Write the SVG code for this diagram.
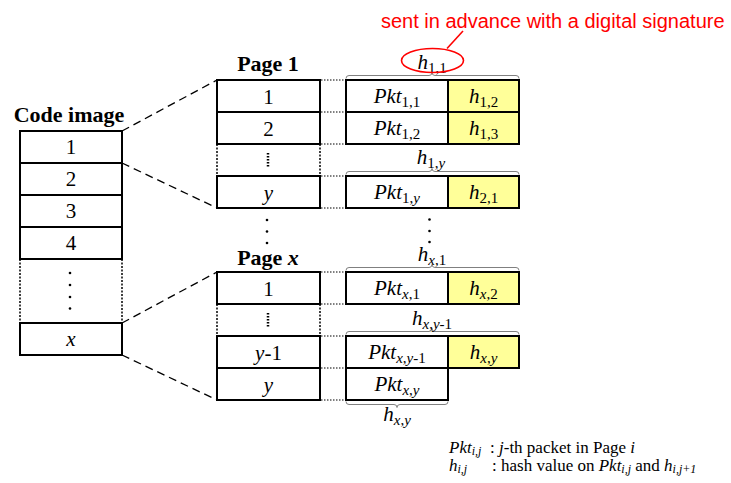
<svg xmlns="http://www.w3.org/2000/svg" width="731" height="483" viewBox="0 0 731 483">
<style>
  .box { fill: #ffffff; stroke: #000; stroke-width: 2; }
  .hash { fill: #ffff99; stroke: #000; stroke-width: 2; }
  .dotside { stroke: #000; stroke-width: 1.5; stroke-dasharray: 2 1.5; fill: none; }
  .t { font-family: "Liberation Serif", "Times New Roman", serif; font-size: 21px; fill: #000; }
  .it { font-style: italic; }
  .b { font-weight: bold; font-size: 22px; }
  .sub { font-size: 15px; font-style: normal; }
  .brace { fill: none; stroke: #808080; stroke-width: 1; }
  .dash { stroke: #000; stroke-width: 1.3; stroke-dasharray: 8 5; fill: none; }
  .lead { stroke: #000; stroke-width: 1; stroke-dasharray: 1.5 1.5; fill: none; }
  .vd { stroke: #000; stroke-width: 2.5; stroke-dasharray: 1.5 1.5; }
  .dot { fill: #000; }
  .red { font-family: "Liberation Sans", Arial, sans-serif; font-size: 20px; fill: #ff0000; }
  .leg { font-family: "Liberation Serif", "Times New Roman", serif; font-size: 17px; fill: #000; }
  .legsub { font-size: 12px; font-style: italic; }
</style>

<!-- Code image -->
<g id="code-image">
  <text class="t b" x="69" y="122" text-anchor="middle">Code image</text>
  <rect class="box" x="20" y="131" width="102" height="32"/>
  <rect class="box" x="20" y="163" width="102" height="32"/>
  <rect class="box" x="20" y="195" width="102" height="32"/>
  <rect class="box" x="20" y="227" width="102" height="32"/>
  <line class="dotside" x1="20" y1="259" x2="20" y2="323"/>
  <line class="dotside" x1="122" y1="259" x2="122" y2="323"/>
  <rect class="box" x="20" y="323" width="102" height="32"/>
  <text class="t" x="71" y="154" text-anchor="middle">1</text>
  <text class="t" x="71" y="186" text-anchor="middle">2</text>
  <text class="t" x="71" y="218" text-anchor="middle">3</text>
  <text class="t" x="71" y="250" text-anchor="middle">4</text>
  <circle class="dot" cx="70" cy="273" r="1.3"/>
  <circle class="dot" cx="70" cy="285" r="1.3"/>
  <circle class="dot" cx="70" cy="297" r="1.3"/>
  <circle class="dot" cx="70" cy="308.5" r="1.3"/>
  <text class="t it" x="71" y="346" text-anchor="middle">x</text>
</g>

<!-- Page 1 -->
<g id="page-1">
  <text class="t b" x="268" y="71" text-anchor="middle">Page 1</text>
  <rect class="box" x="217" y="80" width="103" height="32"/>
  <rect class="box" x="217" y="112" width="103" height="32"/>
  <line class="dotside" x1="217" y1="144" x2="217" y2="176"/>
  <line class="dotside" x1="320" y1="144" x2="320" y2="176"/>
  <rect class="box" x="217" y="176" width="103" height="32"/>
  <text class="t" x="268.5" y="103.5" text-anchor="middle">1</text>
  <text class="t" x="268.5" y="135.5" text-anchor="middle">2</text>
  <line class="vd" x1="268" y1="153" x2="268" y2="167"/>
  <text class="t it" x="268.5" y="199.5" text-anchor="middle">y</text>
</g>

<!-- Page 1 packets -->
<g id="page-1-packets">
  <rect class="box" x="346" y="80" width="102" height="32"/>
  <rect class="hash" x="448" y="80" width="71" height="32"/>
  <rect class="box" x="346" y="112" width="102" height="32"/>
  <rect class="hash" x="448" y="112" width="71" height="32"/>
  <rect class="box" x="346" y="176" width="102" height="32"/>
  <rect class="hash" x="448" y="176" width="71" height="32"/>
  <text class="t it" x="397" y="103" text-anchor="middle">Pkt<tspan class="sub" dy="4">1,1</tspan></text>
  <text class="t it" x="483.5" y="103" text-anchor="middle">h<tspan class="sub" dy="4">1,2</tspan></text>
  <text class="t it" x="397" y="135" text-anchor="middle">Pkt<tspan class="sub" dy="4">1,2</tspan></text>
  <text class="t it" x="483.5" y="135" text-anchor="middle">h<tspan class="sub" dy="4">1,3</tspan></text>
  <text class="t it" x="397" y="199" text-anchor="middle">Pkt<tspan class="sub" dy="4">1,<tspan font-style="italic">y</tspan></tspan></text>
  <text class="t it" x="483.5" y="199" text-anchor="middle">h<tspan class="sub" dy="4">2,1</tspan></text>
  <path class="brace" d="M346,78.5 Q346,75.5 349,75.5 L429,75.5 Q432,75.5 432,72.5 Q432,75.5 435,75.5 L516,75.5 Q519,75.5 519,78.5"/>
  <text class="t it" x="432" y="68.5" text-anchor="middle">h<tspan class="sub" dy="4">1,1</tspan></text>
  <path class="brace" d="M346,174.5 Q346,171.5 349,171.5 L429,171.5 Q432,171.5 432,168.5 Q432,171.5 435,171.5 L516,171.5 Q519,171.5 519,174.5"/>
  <text class="t it" x="431" y="164" text-anchor="middle">h<tspan class="sub" dy="4">1,<tspan font-style="italic">y</tspan></tspan></text>
</g>

<!-- between pages dots -->
<g id="ellipsis">
  <circle class="dot" cx="267" cy="220" r="1.3"/>
  <circle class="dot" cx="267" cy="231.5" r="1.3"/>
  <circle class="dot" cx="267" cy="243" r="1.3"/>
  <circle class="dot" cx="429.5" cy="219.5" r="1.3"/>
  <circle class="dot" cx="429.5" cy="231" r="1.3"/>
  <circle class="dot" cx="429.5" cy="242" r="1.3"/>
</g>

<!-- Page x -->
<g id="page-x">
  <text class="t b" x="268" y="265" text-anchor="middle">Page <tspan font-style="italic">x</tspan></text>
  <rect class="box" x="217" y="272" width="103" height="32"/>
  <line class="dotside" x1="217" y1="304" x2="217" y2="336"/>
  <line class="dotside" x1="320" y1="304" x2="320" y2="336"/>
  <rect class="box" x="217" y="336" width="103" height="32"/>
  <rect class="box" x="217" y="368" width="103" height="32"/>
  <text class="t" x="268.5" y="295.5" text-anchor="middle">1</text>
  <line class="vd" x1="268" y1="313" x2="268" y2="327"/>
  <text class="t" x="268.5" y="359.5" text-anchor="middle"><tspan font-style="italic">y</tspan>-1</text>
  <text class="t it" x="268.5" y="391.5" text-anchor="middle">y</text>
</g>

<!-- Page x packets -->
<g id="page-x-packets">
  <rect class="box" x="346" y="272" width="102" height="32"/>
  <rect class="hash" x="448" y="272" width="71" height="32"/>
  <rect class="box" x="346" y="336" width="102" height="32"/>
  <rect class="hash" x="448" y="336" width="71" height="32"/>
  <rect class="box" x="346" y="368" width="102" height="32"/>
  <text class="t it" x="397" y="295" text-anchor="middle">Pkt<tspan class="sub" dy="4"><tspan font-style="italic">x</tspan>,1</tspan></text>
  <text class="t it" x="483.5" y="295" text-anchor="middle">h<tspan class="sub" dy="4"><tspan font-style="italic">x</tspan>,2</tspan></text>
  <text class="t it" x="397" y="359" text-anchor="middle">Pkt<tspan class="sub" dy="4"><tspan font-style="italic">x</tspan>,<tspan font-style="italic">y</tspan>-1</tspan></text>
  <text class="t it" x="483.5" y="359" text-anchor="middle">h<tspan class="sub" dy="4"><tspan font-style="italic">x</tspan>,<tspan font-style="italic">y</tspan></tspan></text>
  <text class="t it" x="397" y="391" text-anchor="middle">Pkt<tspan class="sub" dy="4"><tspan font-style="italic">x</tspan>,<tspan font-style="italic">y</tspan></tspan></text>
  <path class="brace" d="M346,270.5 Q346,267.5 349,267.5 L429,267.5 Q432,267.5 432,264.5 Q432,267.5 435,267.5 L516,267.5 Q519,267.5 519,270.5"/>
  <text class="t it" x="432" y="261" text-anchor="middle">h<tspan class="sub" dy="4"><tspan font-style="italic">x</tspan>,1</tspan></text>
  <path class="brace" d="M346,334.5 Q346,331.5 349,331.5 L429,331.5 Q432,331.5 432,328.5 Q432,331.5 435,331.5 L516,331.5 Q519,331.5 519,334.5"/>
  <text class="t it" x="432" y="325" text-anchor="middle">h<tspan class="sub" dy="4"><tspan font-style="italic">x</tspan>,<tspan font-style="italic">y</tspan>-1</tspan></text>
  <path class="brace" d="M346,401.5 Q346,404.5 349,404.5 L394,404.5 Q397,404.5 397,407.5 Q397,404.5 400,404.5 L445,404.5 Q448,404.5 448,401.5"/>
  <text class="t it" x="397" y="421" text-anchor="middle">h<tspan class="sub" dy="4"><tspan font-style="italic">x</tspan>,<tspan font-style="italic">y</tspan></tspan></text>
</g>

<!-- Annotation -->
<g id="annotation">
  <ellipse cx="432.5" cy="60.5" rx="31" ry="12" fill="none" stroke="#ff0000" stroke-width="1.6"/>
  <line x1="447" y1="48.5" x2="463" y2="31" stroke="#ff0000" stroke-width="1.6"/>
  <text class="red" x="381" y="28">sent in advance with a digital signature</text>
</g>

<!-- Connectors -->
<g id="connectors">
  <line class="dash" x1="122" y1="131" x2="217" y2="80"/>
  <line class="dash" x1="122" y1="163" x2="217" y2="208"/>
  <line class="dash" x1="122" y1="323" x2="217" y2="272"/>
  <line class="dash" x1="122" y1="355" x2="217" y2="400"/>
  <line class="lead" x1="321" y1="80" x2="346" y2="80"/>
  <line class="lead" x1="321" y1="112" x2="346" y2="112"/>
  <line class="lead" x1="321" y1="144" x2="346" y2="144"/>
  <line class="lead" x1="321" y1="176" x2="346" y2="176"/>
  <line class="lead" x1="321" y1="208" x2="346" y2="208"/>
  <line class="lead" x1="321" y1="272" x2="346" y2="272"/>
  <line class="lead" x1="321" y1="304" x2="346" y2="304"/>
  <line class="lead" x1="321" y1="336" x2="346" y2="336"/>
  <line class="lead" x1="321" y1="368" x2="346" y2="368"/>
  <line class="lead" x1="321" y1="400" x2="346" y2="400"/>
</g>

<!-- Legend -->
<g id="legend">
  <text class="leg" x="449" y="453"><tspan font-style="italic">Pkt</tspan><tspan class="legsub" dy="2">i,j</tspan></text>
  <text class="leg" x="490" y="453">: <tspan font-style="italic">j</tspan>-th packet in Page <tspan font-style="italic">i</tspan></text>
  <text class="leg" x="449" y="471"><tspan font-style="italic">h</tspan><tspan class="legsub" dy="2">i,j</tspan></text>
  <text class="leg" x="492" y="471">: hash value on <tspan font-style="italic">Pkt</tspan><tspan class="legsub" dy="2">i,j</tspan><tspan dy="-2"> and </tspan><tspan font-style="italic">h</tspan><tspan class="legsub" dy="2">i,j+1</tspan></text>
</g>
</svg>
